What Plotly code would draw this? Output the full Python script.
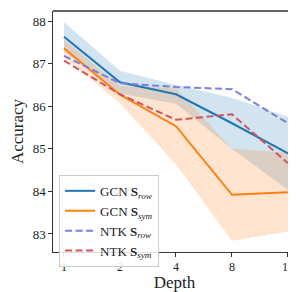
import plotly.graph_objects as go

depth = [1, 2, 4, 8, 16]
tick_labels = ["1", "2", "4", "8", "16"]

gcn_row_mean = [87.63, 86.56, 86.28, 85.60, 84.89]
gcn_row_std = [0.34, 0.27, 0.22, 0.60, 0.86]
gcn_sym_mean = [87.36, 86.27, 85.53, 83.92, 83.98]
gcn_sym_std = [0.20, 0.20, 0.90, 1.08, 0.92]
ntk_row = [87.18, 86.54, 86.45, 86.40, 85.60]
ntk_sym = [87.07, 86.28, 85.68, 85.81, 84.66]

FONT = "Liberation Serif"
BLUE = "#1f77b4"
ORANGE = "#ff7f0e"
PURPLE = "#7b80d8"
RED = "#cf565c"

fig = go.Figure()


def band(mean, std, fill):
    lo = [m - s for m, s in zip(mean, std)]
    hi = [m + s for m, s in zip(mean, std)]
    fig.add_trace(go.Scatter(x=depth, y=lo, mode="lines", line=dict(width=0),
                             showlegend=False, hoverinfo="skip"))
    fig.add_trace(go.Scatter(x=depth, y=hi, mode="lines", line=dict(width=0),
                             fill="tonexty", fillcolor=fill,
                             showlegend=False, hoverinfo="skip"))


band(gcn_row_mean, gcn_row_std, "rgba(31,119,180,0.2)")
band(gcn_sym_mean, gcn_sym_std, "rgba(255,127,14,0.2)")

fig.add_trace(go.Scatter(x=depth, y=gcn_row_mean, mode="lines",
                         line=dict(color=BLUE, width=2),
                         name="GCN <b>S</b><sub><i>row</i></sub>"))
fig.add_trace(go.Scatter(x=depth, y=gcn_sym_mean, mode="lines",
                         line=dict(color=ORANGE, width=2),
                         name="GCN <b>S</b><sub><i>sym</i></sub>"))
fig.add_trace(go.Scatter(x=depth, y=ntk_row, mode="lines",
                         line=dict(color=PURPLE, width=2, dash="7px,3.5px"),
                         name="NTK <b>S</b><sub><i>row</i></sub>"))
fig.add_trace(go.Scatter(x=depth, y=ntk_sym, mode="lines",
                         line=dict(color=RED, width=2, dash="7px,3.5px"),
                         name="NTK <b>S</b><sub><i>sym</i></sub>"))

axis_common = dict(showgrid=False, zeroline=False, showline=True,
                   linecolor="#333333", linewidth=1.3, ticks="outside",
                   ticklen=3.5, tickwidth=1.2, tickcolor="#333333",
                   automargin=False, ticklabeloverflow="allow")

fig.update_xaxes(type="log", range=[-0.0591, 1.2472], tickvals=depth,
                 ticktext=tick_labels,
                 tickfont=dict(family=FONT, size=12, color="#222222"),
                 title=dict(text="Depth", font=dict(family=FONT, size=17, color="#222222")),
                 **axis_common)
fig.update_yaxes(range=[82.577, 88.235], tickvals=[83, 84, 85, 86, 87, 88],
                 tickfont=dict(family=FONT, size=13, color="#222222"),
                 title=dict(text="Accuracy", font=dict(family=FONT, size=17, color="#222222"),
                            standoff=6),
                 **axis_common)

fig.add_shape(type="line", xref="paper", yref="paper", x0=0, x1=1, y0=1, y1=1,
              line=dict(color="#333333", width=1.3))

fig.update_layout(
    width=288, height=284,
    margin=dict(l=45, r=0, t=3, b=40),
    paper_bgcolor="white", plot_bgcolor="white",
    legend=dict(x=0.025, y=0.32, xanchor="left", yanchor="top",
                traceorder="normal",
                bgcolor="rgba(255,255,255,0.85)", bordercolor="#cccccc",
                borderwidth=1, font=dict(family=FONT, size=13, color="#222222"),
                tracegroupgap=0, itemwidth=30),
)

fig.write_html("out.html")
